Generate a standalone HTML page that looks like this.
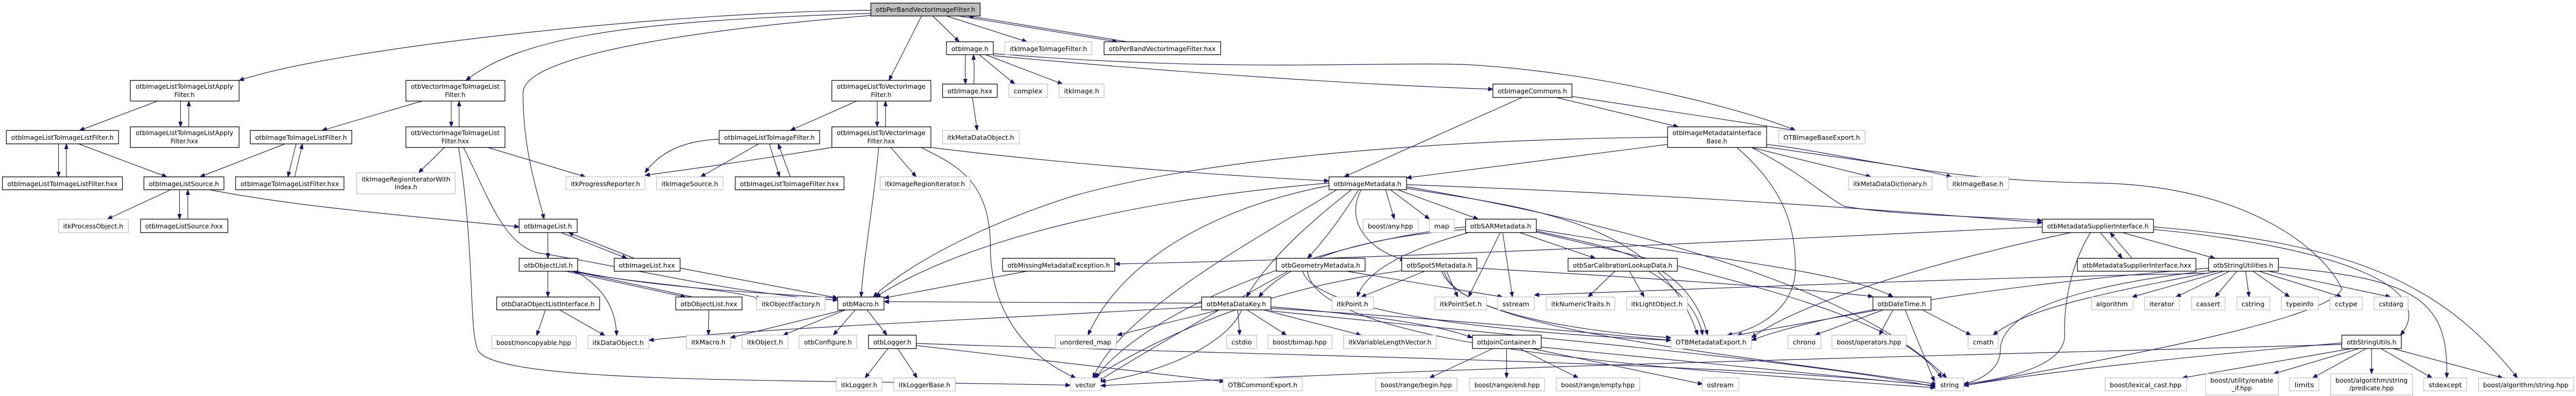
<!DOCTYPE html>
<html><head><meta charset="utf-8"><style>
html,body{margin:0;padding:0;background:#fff;width:100%;height:100%;overflow:hidden}
svg{display:block;position:fixed;left:0;top:0;width:100vw;height:100vh;overflow:hidden}
text{font-family:"DejaVu Sans","Liberation Sans",sans-serif;font-size:12.5px;fill:#000}
.b{fill:#fff;stroke:#000;stroke-width:1.3}
.g{fill:#fff;stroke:#bfbfbf;stroke-width:1.3}
.e path{fill:none;stroke:#191970;stroke-width:1.2;marker-end:url(#ah)}
</style></head><body>
<svg viewBox="0 0 5280 768" preserveAspectRatio="none" xmlns="http://www.w3.org/2000/svg">
<defs><marker id="ah" markerWidth="10" markerHeight="8" refX="10" refY="4" orient="auto" markerUnits="userSpaceOnUse"><path d="M0,0 L10,4 L0,8 z" fill="#191970" stroke="#191970"/></marker></defs>
<g class="e">
<path d="M1785,20 C1400,22 700,90 490,156"/>
<path d="M1785,26 C1300,40 1070,70 955,156"/>
<path d="M1785,30 C1400,60 1072,110 1072,180 C1072,300 1105,380 1115,425"/>
<path d="M1889,31 L1822,156"/>
<path d="M1912,31 L1966,81"/>
<path d="M1940,31 L2105,81"/>
<path d="M1965,31 L2290,81"/>
<path d="M2310,81 L1985,31"/>
<path d="M1979,106 C1978,130 1978,140 1979,163"/>
<path d="M1996,163 C1997,140 1997,130 1995,106"/>
<path d="M2007,106 L2080,163"/>
<path d="M2020,106 L2178,163"/>
<path d="M2036,108 C2400,140 2800,165 3060,173"/>
<path d="M2036,104 C2500,140 2800,120 3000,125 C3300,140 3600,220 3680,253"/>
<path d="M1993,189 L2003,253"/>
<path d="M323,196 L163,253"/>
<path d="M370,196 L370,246"/>
<path d="M387,246 L387,196"/>
<path d="M120,279 L120,343"/>
<path d="M136,343 L136,279"/>
<path d="M161,279 L342,343"/>
<path d="M350,368 L220,425"/>
<path d="M368,368 L368,425"/>
<path d="M385,425 L385,368"/>
<path d="M430,368 C600,400 850,420 1064,440"/>
<path d="M865,196 L660,253"/>
<path d="M925,196 L925,246"/>
<path d="M941,246 L941,196"/>
<path d="M584,279 L410,343"/>
<path d="M607,279 L590,343"/>
<path d="M604,343 L620,279"/>
<path d="M911,286 L858,335"/>
<path d="M1000,286 L1200,343"/>
<path d="M940,286 C975,500 960,640 980,680 C1020,745 1600,735 2194,747"/>
<path d="M950,286 C1000,380 1030,470 1100,490 C1300,520 1500,570 1717,582"/>
<path d="M1123,451 L1123,501"/>
<path d="M1150,451 L1285,501"/>
<path d="M1300,501 L1165,451"/>
<path d="M1123,526 L1123,576"/>
<path d="M1180,526 C1240,560 1262,600 1264,651"/>
<path d="M1160,526 L1405,576"/>
<path d="M1420,576 L1175,526"/>
<path d="M1170,526 C1300,550 1500,560 1560,580"/>
<path d="M1180,526 C1350,560 1600,570 1717,578"/>
<path d="M1118,601 L1100,651"/>
<path d="M1147,601 L1240,651"/>
<path d="M1394,520 L1717,578"/>
<path d="M1453,601 L1452,650"/>
<path d="M1756,196 L1620,253"/>
<path d="M1798,196 L1798,246"/>
<path d="M1815,246 L1815,196"/>
<path d="M1555,279 L1436,343"/>
<path d="M1577,279 L1598,343"/>
<path d="M1620,343 L1595,279"/>
<path d="M1474,270 C1420,272 1360,285 1322,335"/>
<path d="M1705,286 C1550,310 1400,330 1322,340"/>
<path d="M1801,286 C1790,400 1770,500 1765,576"/>
<path d="M1826,286 L1878,343"/>
<path d="M1888,286 C1960,320 2030,350 2030,480 C2030,600 2100,690 2205,733"/>
<path d="M1908,286 C2200,320 2500,340 2724,351"/>
<path d="M1730,601 L1497,655"/>
<path d="M1733,601 L1605,650"/>
<path d="M1753,601 L1708,650"/>
<path d="M1777,601 L1818,650"/>
<path d="M1820,676 L1773,733"/>
<path d="M1840,676 L1880,733"/>
<path d="M1878,670 L2510,740"/>
<path d="M1878,666 C2600,690 3500,700 3967,748"/>
<path d="M2105,526 L1812,578"/>
<path d="M2463,588 L1812,585"/>
<path d="M2463,595 C2000,620 1500,640 1330,660"/>
<path d="M2500,601 L2290,650"/>
<path d="M2537,601 L2541,650"/>
<path d="M2556,601 L2637,650"/>
<path d="M2590,601 L2790,650"/>
<path d="M2605,595 C2800,610 2950,630 3018,655"/>
<path d="M2605,598 C3000,620 3300,650 3425,660"/>
<path d="M2545,601 C2520,660 2400,720 2256,740"/>
<path d="M2605,603 C3200,660 3700,700 3967,750"/>
<path d="M3120,189 L2755,343"/>
<path d="M3190,189 L3440,246"/>
<path d="M3222,187 L3680,253"/>
<path d="M3418,280 L2883,345"/>
<path d="M3590,286 L3835,343"/>
<path d="M3620,285 C3800,310 3900,320 4000,343"/>
<path d="M3560,286 C3650,360 3680,430 3680,520 C3680,600 3600,640 3540,650"/>
<path d="M3590,286 C3700,340 3740,380 3780,400 C3900,420 4100,420 4186,428"/>
<path d="M3418,266 C3000,270 2500,300 2200,380 C2000,440 1850,520 1790,576"/>
<path d="M3621,280 C3800,300 3950,350 4300,355 C4600,360 4760,480 4800,560 C4780,620 4300,700 4025,748"/>
<path d="M2840,368 L2858,425"/>
<path d="M2850,368 L2930,425"/>
<path d="M2865,368 L3030,425"/>
<path d="M2790,368 C2760,420 2790,480 2880,505"/>
<path d="M2785,368 C2750,420 2720,460 2680,501"/>
<path d="M2770,368 C2700,420 2600,500 2555,576"/>
<path d="M2724,355 C2400,380 2000,450 1795,576"/>
<path d="M2740,368 C2600,450 2300,600 2240,733"/>
<path d="M2883,365 C3100,400 3400,420 3480,650"/>
<path d="M2883,362 C3300,430 3800,550 3990,733"/>
<path d="M2883,358 C3500,380 3900,410 4186,432"/>
<path d="M2724,360 C2500,400 2300,500 2230,650"/>
<path d="M3010,451 C2900,480 2800,520 2782,576"/>
<path d="M3075,451 L3010,576"/>
<path d="M3080,451 L3100,576"/>
<path d="M3115,451 L3270,501"/>
<path d="M3149,445 C3500,500 3800,530 3880,576"/>
<path d="M3149,448 C3300,480 3460,500 3500,650"/>
<path d="M3004,445 C2800,460 2650,500 2580,576"/>
<path d="M3149,450 C3600,550 3900,620 3980,733"/>
<path d="M3004,440 C2700,470 2350,600 2245,733"/>
<path d="M2920,526 L2790,576"/>
<path d="M2965,526 L2988,576"/>
<path d="M3027,520 C3400,540 3700,560 3839,575"/>
<path d="M2960,526 C2980,600 3200,640 3425,655"/>
<path d="M2955,526 C3000,640 3500,680 3970,745"/>
<path d="M2873,525 C2600,560 2400,640 2240,733"/>
<path d="M2670,526 C2700,620 3200,650 3425,660"/>
<path d="M2680,526 C2700,680 3500,720 3967,752"/>
<path d="M2640,526 C2500,600 2350,680 2250,740"/>
<path d="M2760,526 L3080,576"/>
<path d="M3310,526 L3255,576"/>
<path d="M3340,526 L3370,576"/>
<path d="M3380,526 C3440,560 3480,600 3490,650"/>
<path d="M4527,530 C4000,540 3500,560 3145,572"/>
<path d="M3860,601 L3720,650"/>
<path d="M3880,601 L3852,650"/>
<path d="M3850,601 L3560,650"/>
<path d="M3905,601 L3965,740"/>
<path d="M3940,601 L4040,650"/>
<path d="M3060,676 L2930,733"/>
<path d="M3088,676 L3088,733"/>
<path d="M3115,676 L3235,733"/>
<path d="M3140,676 L3490,745"/>
<path d="M3159,673 L3967,748"/>
<path d="M4305,451 L4350,501"/>
<path d="M4370,501 L4325,451"/>
<path d="M4350,451 L4540,501"/>
<path d="M4285,451 C4240,520 4230,600 4232,650 C4232,700 4150,730 4025,745"/>
<path d="M4414,445 C4800,480 5000,560 4920,650"/>
<path d="M4414,440 C4800,470 5000,540 5160,733"/>
<path d="M4245,451 C4000,500 3700,580 3590,655"/>
<path d="M4186,440 C3500,470 2900,500 2285,512"/>
<path d="M4558,526 L4370,576"/>
<path d="M4570,526 L4460,576"/>
<path d="M4585,526 L4540,576"/>
<path d="M4603,526 L4610,576"/>
<path d="M4618,526 L4693,576"/>
<path d="M4630,526 L4800,576"/>
<path d="M4650,526 L4900,576"/>
<path d="M4545,526 C4300,570 4150,600 4085,650"/>
<path d="M4527,525 C4200,560 4100,620 4100,680 C4100,720 4050,740 4025,745"/>
<path d="M4670,518 C4950,540 5020,580 5015,733"/>
<path d="M4527,520 C4000,560 3700,620 3590,660"/>
<path d="M4800,665 C4500,690 4200,720 4025,748"/>
<path d="M4820,676 L4473,733"/>
<path d="M4835,676 L4660,725"/>
<path d="M4850,676 L4740,733"/>
<path d="M4861,676 L4861,725"/>
<path d="M4880,676 L4985,733"/>
<path d="M4905,676 L5130,733"/>
<path d="M4800,668 C4000,690 3000,710 2256,748"/>
</g>
<g>
<rect x="1785" y="6" width="224" height="25" fill="#bfbfbf" stroke="#000" stroke-width="1.3"/><text x="1897" y="23" text-anchor="middle" textLength="204" lengthAdjust="spacingAndGlyphs">otbPerBandVectorImageFilter.h</text>
<rect class="b" x="267" y="156" width="223" height="40"/><text x="378" y="172" text-anchor="middle" textLength="200" lengthAdjust="spacingAndGlyphs">otbImageListToImageListApply</text><text x="378" y="188" text-anchor="middle">Filter.h</text>
<rect class="b" x="267" y="246" width="223" height="40"/><text x="378" y="262" text-anchor="middle" textLength="200" lengthAdjust="spacingAndGlyphs">otbImageListToImageListApply</text><text x="378" y="278" text-anchor="middle">Filter.hxx</text>
<rect class="b" x="832" y="156" width="203" height="40"/><text x="933" y="172" text-anchor="middle" textLength="182" lengthAdjust="spacingAndGlyphs">otbVectorImageToImageList</text><text x="933" y="188" text-anchor="middle">Filter.h</text>
<rect class="b" x="832" y="246" width="203" height="40"/><text x="933" y="262" text-anchor="middle" textLength="182" lengthAdjust="spacingAndGlyphs">otbVectorImageToImageList</text><text x="933" y="278" text-anchor="middle">Filter.hxx</text>
<rect class="b" x="13" y="253" width="230" height="26"/><text x="128" y="271" text-anchor="middle" textLength="210" lengthAdjust="spacingAndGlyphs">otbImageListToImageListFilter.h</text>
<rect class="b" x="513" y="253" width="208" height="26"/><text x="617" y="271" text-anchor="middle" textLength="188" lengthAdjust="spacingAndGlyphs">otbImageToImageListFilter.h</text>
<rect class="b" x="5" y="343" width="246" height="25"/><text x="128" y="361" text-anchor="middle" textLength="226" lengthAdjust="spacingAndGlyphs">otbImageListToImageListFilter.hxx</text>
<rect class="b" x="295" y="343" width="164" height="25"/><text x="377" y="361" text-anchor="middle" textLength="144" lengthAdjust="spacingAndGlyphs">otbImageListSource.h</text>
<rect class="b" x="483" y="343" width="222" height="25"/><text x="594" y="361" text-anchor="middle" textLength="202" lengthAdjust="spacingAndGlyphs">otbImageToImageListFilter.hxx</text>
<rect class="g" x="731" y="335" width="202" height="41"/><text x="832" y="352" text-anchor="middle" textLength="182" lengthAdjust="spacingAndGlyphs">itkImageRegionIteratorWith</text><text x="832" y="367" text-anchor="middle">Index.h</text>
<rect class="g" x="1160" y="343" width="162" height="25"/><text x="1241" y="361" text-anchor="middle" textLength="142" lengthAdjust="spacingAndGlyphs">itkProgressReporter.h</text>
<rect class="g" x="120" y="425" width="143" height="26"/><text x="191" y="443" text-anchor="middle" textLength="123" lengthAdjust="spacingAndGlyphs">itkProcessObject.h</text>
<rect class="b" x="288" y="425" width="179" height="26"/><text x="377" y="443" text-anchor="middle" textLength="159" lengthAdjust="spacingAndGlyphs">otbImageListSource.hxx</text>
<rect class="b" x="1064" y="425" width="119" height="26"/><text x="1123" y="443" text-anchor="middle" textLength="99" lengthAdjust="spacingAndGlyphs">otbImageList.h</text>
<rect class="b" x="1259" y="501" width="135" height="25"/><text x="1326" y="519" text-anchor="middle" textLength="115" lengthAdjust="spacingAndGlyphs">otbImageList.hxx</text>
<rect class="b" x="1064" y="501" width="120" height="25"/><text x="1124" y="519" text-anchor="middle" textLength="100" lengthAdjust="spacingAndGlyphs">otbObjectList.h</text>
<rect class="b" x="1018" y="576" width="211" height="25"/><text x="1123" y="594" text-anchor="middle" textLength="191" lengthAdjust="spacingAndGlyphs">otbDataObjectListInterface.h</text>
<rect class="g" x="1008" y="651" width="173" height="25"/><text x="1094" y="669" text-anchor="middle" textLength="153" lengthAdjust="spacingAndGlyphs">boost/noncopyable.hpp</text>
<rect class="g" x="1205" y="651" width="125" height="25"/><text x="1267" y="669" text-anchor="middle" textLength="105" lengthAdjust="spacingAndGlyphs">itkDataObject.h</text>
<rect class="b" x="1940" y="81" width="96" height="25"/><text x="1988" y="99" text-anchor="middle" textLength="76" lengthAdjust="spacingAndGlyphs">otbImage.h</text>
<rect class="g" x="2060" y="81" width="178" height="25"/><text x="2149" y="99" text-anchor="middle" textLength="158" lengthAdjust="spacingAndGlyphs">itkImageToImageFilter.h</text>
<rect class="b" x="2263" y="81" width="239" height="25"/><text x="2382" y="99" text-anchor="middle" textLength="219" lengthAdjust="spacingAndGlyphs">otbPerBandVectorImageFilter.hxx</text>
<rect class="b" x="1705" y="156" width="203" height="40"/><text x="1806" y="172" text-anchor="middle" textLength="182" lengthAdjust="spacingAndGlyphs">otbImageListToVectorImage</text><text x="1806" y="188" text-anchor="middle">Filter.h</text>
<rect class="b" x="1705" y="246" width="203" height="40"/><text x="1806" y="262" text-anchor="middle" textLength="182" lengthAdjust="spacingAndGlyphs">otbImageListToVectorImage</text><text x="1806" y="278" text-anchor="middle">Filter.hxx</text>
<rect class="b" x="1932" y="163" width="112" height="26"/><text x="1988" y="181" text-anchor="middle" textLength="92" lengthAdjust="spacingAndGlyphs">otbImage.hxx</text>
<rect class="g" x="2068" y="163" width="79" height="26"/><text x="2107" y="181" text-anchor="middle" textLength="59" lengthAdjust="spacingAndGlyphs">complex</text>
<rect class="g" x="2171" y="163" width="92" height="26"/><text x="2217" y="181" text-anchor="middle" textLength="72" lengthAdjust="spacingAndGlyphs">itkImage.h</text>
<rect class="g" x="1932" y="253" width="157" height="26"/><text x="2010" y="271" text-anchor="middle" textLength="137" lengthAdjust="spacingAndGlyphs">itkMetaDataObject.h</text>
<rect class="b" x="1474" y="253" width="206" height="26"/><text x="1577" y="271" text-anchor="middle" textLength="186" lengthAdjust="spacingAndGlyphs">otbImageListToImageFilter.h</text>
<rect class="g" x="1346" y="343" width="136" height="25"/><text x="1414" y="361" text-anchor="middle" textLength="116" lengthAdjust="spacingAndGlyphs">itkImageSource.h</text>
<rect class="b" x="1507" y="343" width="223" height="25"/><text x="1618" y="361" text-anchor="middle" textLength="203" lengthAdjust="spacingAndGlyphs">otbImageListToImageFilter.hxx</text>
<rect class="g" x="1804" y="343" width="184" height="25"/><text x="1896" y="361" text-anchor="middle" textLength="164" lengthAdjust="spacingAndGlyphs">itkImageRegionIterator.h</text>
<rect class="b" x="2055" y="501" width="230" height="25"/><text x="2170" y="519" text-anchor="middle" textLength="210" lengthAdjust="spacingAndGlyphs">otbMissingMetadataException.h</text>
<rect class="b" x="1385" y="576" width="136" height="25"/><text x="1453" y="594" text-anchor="middle" textLength="116" lengthAdjust="spacingAndGlyphs">otbObjectList.hxx</text>
<rect class="g" x="1551" y="576" width="140" height="25"/><text x="1621" y="594" text-anchor="middle" textLength="120" lengthAdjust="spacingAndGlyphs">itkObjectFactory.h</text>
<rect class="b" x="1717" y="576" width="95" height="25"/><text x="1764" y="594" text-anchor="middle" textLength="75" lengthAdjust="spacingAndGlyphs">otbMacro.h</text>
<rect class="b" x="2463" y="576" width="142" height="25"/><text x="2534" y="594" text-anchor="middle" textLength="122" lengthAdjust="spacingAndGlyphs">otbMetaDataKey.h</text>
<rect class="g" x="1407" y="650" width="90" height="26"/><text x="1452" y="668" text-anchor="middle" textLength="70" lengthAdjust="spacingAndGlyphs">itkMacro.h</text>
<rect class="g" x="1521" y="650" width="94" height="26"/><text x="1568" y="668" text-anchor="middle" textLength="74" lengthAdjust="spacingAndGlyphs">itkObject.h</text>
<rect class="g" x="1638" y="650" width="118" height="26"/><text x="1697" y="668" text-anchor="middle" textLength="98" lengthAdjust="spacingAndGlyphs">otbConfigure.h</text>
<rect class="b" x="1780" y="650" width="98" height="26"/><text x="1829" y="668" text-anchor="middle" textLength="78" lengthAdjust="spacingAndGlyphs">otbLogger.h</text>
<rect class="g" x="2163" y="650" width="125" height="26"/><text x="2225" y="668" text-anchor="middle" textLength="105" lengthAdjust="spacingAndGlyphs">unordered_map</text>
<rect class="g" x="2514" y="650" width="62" height="26"/><text x="2545" y="668" text-anchor="middle" textLength="42" lengthAdjust="spacingAndGlyphs">cstdio</text>
<rect class="g" x="2599" y="650" width="131" height="26"/><text x="2664" y="668" text-anchor="middle" textLength="111" lengthAdjust="spacingAndGlyphs">boost/bimap.hpp</text>
<rect class="g" x="1714" y="733" width="94" height="25"/><text x="1761" y="751" text-anchor="middle" textLength="74" lengthAdjust="spacingAndGlyphs">itkLogger.h</text>
<rect class="g" x="1832" y="733" width="126" height="25"/><text x="1895" y="751" text-anchor="middle" textLength="106" lengthAdjust="spacingAndGlyphs">itkLoggerBase.h</text>
<rect class="g" x="2194" y="733" width="62" height="25"/><text x="2225" y="751" text-anchor="middle" textLength="42" lengthAdjust="spacingAndGlyphs">vector</text>
<rect class="g" x="2507" y="733" width="162" height="25"/><text x="2588" y="751" text-anchor="middle" textLength="142" lengthAdjust="spacingAndGlyphs">OTBCommonExport.h</text>
<rect class="b" x="3060" y="163" width="162" height="26"/><text x="3141" y="181" text-anchor="middle" textLength="142" lengthAdjust="spacingAndGlyphs">otbImageCommons.h</text>
<rect class="b" x="3418" y="246" width="203" height="40"/><text x="3519" y="262" text-anchor="middle" textLength="182" lengthAdjust="spacingAndGlyphs">otbImageMetadataInterface</text><text x="3519" y="278" text-anchor="middle">Base.h</text>
<rect class="g" x="3646" y="253" width="177" height="26"/><text x="3734" y="271" text-anchor="middle" textLength="157" lengthAdjust="spacingAndGlyphs">OTBImageBaseExport.h</text>
<rect class="b" x="2724" y="343" width="159" height="25"/><text x="2803" y="361" text-anchor="middle" textLength="139" lengthAdjust="spacingAndGlyphs">otbImageMetadata.h</text>
<rect class="g" x="3789" y="343" width="171" height="25"/><text x="3874" y="361" text-anchor="middle" textLength="151" lengthAdjust="spacingAndGlyphs">itkMetaDataDictionary.h</text>
<rect class="g" x="3992" y="343" width="125" height="25"/><text x="4054" y="361" text-anchor="middle" textLength="105" lengthAdjust="spacingAndGlyphs">itkImageBase.h</text>
<rect class="g" x="2794" y="425" width="113" height="26"/><text x="2850" y="443" text-anchor="middle" textLength="93" lengthAdjust="spacingAndGlyphs">boost/any.hpp</text>
<rect class="g" x="2930" y="425" width="51" height="26"/><text x="2955" y="443" text-anchor="middle" textLength="31" lengthAdjust="spacingAndGlyphs">map</text>
<rect class="b" x="3004" y="425" width="145" height="26"/><text x="3076" y="443" text-anchor="middle" textLength="125" lengthAdjust="spacingAndGlyphs">otbSARMetadata.h</text>
<rect class="b" x="4186" y="425" width="228" height="26"/><text x="4300" y="443" text-anchor="middle" textLength="208" lengthAdjust="spacingAndGlyphs">otbMetadataSupplierInterface.h</text>
<rect class="b" x="2616" y="501" width="182" height="25"/><text x="2707" y="519" text-anchor="middle" textLength="162" lengthAdjust="spacingAndGlyphs">otbGeometryMetadata.h</text>
<rect class="b" x="2873" y="501" width="154" height="25"/><text x="2950" y="519" text-anchor="middle" textLength="134" lengthAdjust="spacingAndGlyphs">otbSpot5Metadata.h</text>
<rect class="b" x="3214" y="501" width="224" height="25"/><text x="3326" y="519" text-anchor="middle" textLength="204" lengthAdjust="spacingAndGlyphs">otbSarCalibrationLookupData.h</text>
<rect class="b" x="4258" y="501" width="243" height="25"/><text x="4380" y="519" text-anchor="middle" textLength="223" lengthAdjust="spacingAndGlyphs">otbMetadataSupplierInterface.hxx</text>
<rect class="b" x="4527" y="501" width="143" height="25"/><text x="4598" y="519" text-anchor="middle" textLength="123" lengthAdjust="spacingAndGlyphs">otbStringUtilities.h</text>
<rect class="g" x="2730" y="576" width="85" height="25"/><text x="2772" y="594" text-anchor="middle" textLength="65" lengthAdjust="spacingAndGlyphs">itkPoint.h</text>
<rect class="g" x="2941" y="576" width="106" height="25"/><text x="2994" y="594" text-anchor="middle" textLength="86" lengthAdjust="spacingAndGlyphs">itkPointSet.h</text>
<rect class="g" x="3070" y="576" width="75" height="25"/><text x="3107" y="594" text-anchor="middle" textLength="55" lengthAdjust="spacingAndGlyphs">sstream</text>
<rect class="g" x="3169" y="576" width="141" height="25"/><text x="3240" y="594" text-anchor="middle" textLength="121" lengthAdjust="spacingAndGlyphs">itkNumericTraits.h</text>
<rect class="g" x="3334" y="576" width="125" height="25"/><text x="3396" y="594" text-anchor="middle" textLength="105" lengthAdjust="spacingAndGlyphs">itkLightObject.h</text>
<rect class="b" x="3839" y="576" width="119" height="25"/><text x="3898" y="594" text-anchor="middle" textLength="99" lengthAdjust="spacingAndGlyphs">otbDateTime.h</text>
<rect class="g" x="4287" y="576" width="85" height="25"/><text x="4329" y="594" text-anchor="middle" textLength="65" lengthAdjust="spacingAndGlyphs">algorithm</text>
<rect class="g" x="4396" y="576" width="71" height="25"/><text x="4431" y="594" text-anchor="middle" textLength="51" lengthAdjust="spacingAndGlyphs">iterator</text>
<rect class="g" x="4492" y="576" width="69" height="25"/><text x="4526" y="594" text-anchor="middle" textLength="49" lengthAdjust="spacingAndGlyphs">cassert</text>
<rect class="g" x="4585" y="576" width="67" height="25"/><text x="4618" y="594" text-anchor="middle" textLength="47" lengthAdjust="spacingAndGlyphs">cstring</text>
<rect class="g" x="4676" y="576" width="76" height="25"/><text x="4714" y="594" text-anchor="middle" textLength="56" lengthAdjust="spacingAndGlyphs">typeinfo</text>
<rect class="g" x="4776" y="576" width="66" height="25"/><text x="4809" y="594" text-anchor="middle" textLength="46" lengthAdjust="spacingAndGlyphs">cctype</text>
<rect class="g" x="4866" y="576" width="70" height="25"/><text x="4901" y="594" text-anchor="middle" textLength="50" lengthAdjust="spacingAndGlyphs">cstdarg</text>
<rect class="g" x="2754" y="650" width="190" height="26"/><text x="2849" y="668" text-anchor="middle" textLength="170" lengthAdjust="spacingAndGlyphs">itkVariableLengthVector.h</text>
<rect class="b" x="3018" y="650" width="141" height="26"/><text x="3088" y="668" text-anchor="middle" textLength="121" lengthAdjust="spacingAndGlyphs">otbJoinContainer.h</text>
<rect class="g" x="3425" y="650" width="165" height="26"/><text x="3507" y="668" text-anchor="middle" textLength="145" lengthAdjust="spacingAndGlyphs">OTBMetadataExport.h</text>
<rect class="g" x="3665" y="650" width="67" height="26"/><text x="3698" y="668" text-anchor="middle" textLength="47" lengthAdjust="spacingAndGlyphs">chrono</text>
<rect class="g" x="3755" y="650" width="152" height="26"/><text x="3831" y="668" text-anchor="middle" textLength="132" lengthAdjust="spacingAndGlyphs">boost/operators.hpp</text>
<rect class="g" x="4034" y="650" width="62" height="26"/><text x="4065" y="668" text-anchor="middle" textLength="42" lengthAdjust="spacingAndGlyphs">cmath</text>
<rect class="b" x="4800" y="650" width="122" height="26"/><text x="4861" y="668" text-anchor="middle" textLength="102" lengthAdjust="spacingAndGlyphs">otbStringUtils.h</text>
<rect class="g" x="2820" y="733" width="166" height="25"/><text x="2903" y="751" text-anchor="middle" textLength="146" lengthAdjust="spacingAndGlyphs">boost/range/begin.hpp</text>
<rect class="g" x="3012" y="733" width="154" height="25"/><text x="3089" y="751" text-anchor="middle" textLength="134" lengthAdjust="spacingAndGlyphs">boost/range/end.hpp</text>
<rect class="g" x="3190" y="733" width="171" height="25"/><text x="3275" y="751" text-anchor="middle" textLength="151" lengthAdjust="spacingAndGlyphs">boost/range/empty.hpp</text>
<rect class="g" x="3489" y="733" width="75" height="25"/><text x="3526" y="751" text-anchor="middle" textLength="55" lengthAdjust="spacingAndGlyphs">ostream</text>
<rect class="g" x="3967" y="733" width="58" height="25"/><text x="3996" y="751" text-anchor="middle" textLength="38" lengthAdjust="spacingAndGlyphs">string</text>
<rect class="g" x="4315" y="733" width="167" height="25"/><text x="4398" y="751" text-anchor="middle" textLength="147" lengthAdjust="spacingAndGlyphs">boost/lexical_cast.hpp</text>
<rect class="g" x="4521" y="725" width="149" height="41"/><text x="4595" y="742" text-anchor="middle" textLength="129" lengthAdjust="spacingAndGlyphs">boost/utility/enable</text><text x="4595" y="757" text-anchor="middle">_if.hpp</text>
<rect class="g" x="4693" y="733" width="60" height="25"/><text x="4723" y="751" text-anchor="middle" textLength="40" lengthAdjust="spacingAndGlyphs">limits</text>
<rect class="g" x="4777" y="725" width="168" height="41"/><text x="4861" y="742" text-anchor="middle" textLength="148" lengthAdjust="spacingAndGlyphs">boost/algorithm/string</text><text x="4861" y="757" text-anchor="middle">/predicate.hpp</text>
<rect class="g" x="4968" y="733" width="88" height="25"/><text x="5012" y="751" text-anchor="middle" textLength="68" lengthAdjust="spacingAndGlyphs">stdexcept</text>
<rect class="g" x="5080" y="733" width="195" height="25"/><text x="5177" y="751" text-anchor="middle" textLength="175" lengthAdjust="spacingAndGlyphs">boost/algorithm/string.hpp</text>
</g>
</svg>
</body></html>
